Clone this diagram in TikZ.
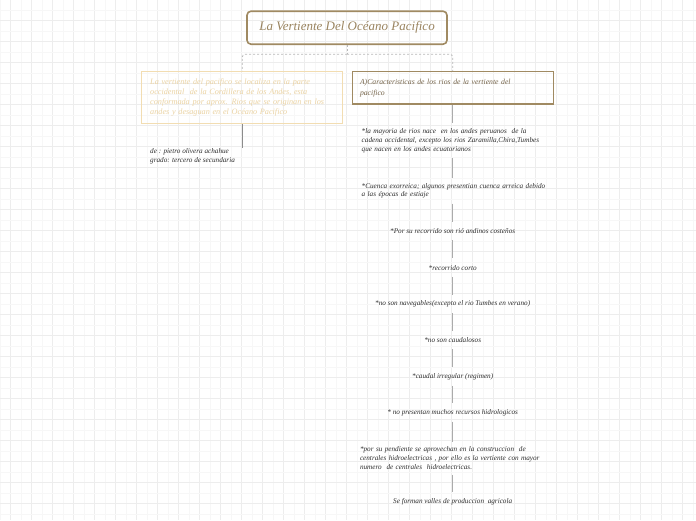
\documentclass[tikz,border=0pt]{standalone}
\usepackage{fontspec}
\setmainfont{Liberation Serif}
\usetikzlibrary{calc}
\definecolor{gold}{HTML}{A08A62}
\definecolor{goldtext}{HTML}{9A8460}
\definecolor{pale}{HTML}{F2DDB2}
\definecolor{paletext}{HTML}{EBD3A3}
\definecolor{darkbrown}{HTML}{76654B}
\definecolor{spine}{HTML}{ABABAB}
\definecolor{spinedark}{HTML}{8C8C8C}
\definecolor{bus}{HTML}{B8B8B8}
\definecolor{gridmaj}{HTML}{EDEDED}
\definecolor{gridmin}{HTML}{F7F7F7}
\definecolor{childtext}{HTML}{2E2E2E}
\begin{document}
\begin{tikzpicture}[x=1pt,y=-1pt,
  titlebox/.style={draw=gold, line width=1.6, rounded corners=4, minimum width=200, minimum height=33,
    text=goldtext, font=\itshape\fontsize{13}{15}\selectfont},
  leftbox/.style={draw=pale, line width=1.4, minimum width=201, minimum height=51.6,
    text width=184, inner xsep=8.5, align=left, text=paletext, font=\itshape\fontsize{8.2}{10}\selectfont},
  rightbox/.style={draw=gold, line width=1.4, minimum width=201, minimum height=32.3,
    text width=185.6, inner xsep=7.7, align=left, text=darkbrown, font=\itshape\fontsize{7.7}{10.6}\selectfont},
  child/.style={inner xsep=0, inner ysep=5, minimum height=18, align=center, text=childtext,
    font=\itshape\fontsize{7.2}{8.9}\selectfont},
  childwide/.style={child, text width=190, align=left},
  author/.style={inner sep=0, align=left, text=childtext, font=\itshape\fontsize{7.2}{9.4}\selectfont},
  spineline/.style={draw=spine, line width=1.3},
  busline/.style={draw=bus, line width=0.8, dash pattern=on 2pt off 2pt, rounded corners=3}
]
\useasboundingbox (0,0) rectangle (696,520);
\fill[white] (0,0) rectangle (696,520);
% grid
\foreach \k in {0,...,33} {
  \draw[gridmin, line width=0.7] ({\k*21},0) -- ({\k*21},520);
  \draw[gridmaj, line width=0.9] ({10.6+\k*21},0) -- ({10.6+\k*21},520);
}
\foreach \k in {0,...,25} {
  \draw[gridmin, line width=0.7] (0,{10.2+\k*21}) -- (696,{10.2+\k*21});
  \draw[gridmaj, line width=0.9] (0,{20.7+\k*21}) -- (696,{20.7+\k*21});
}
% title and main boxes
\node[titlebox] (title) at (347,27.7) {La Vertiente Del Océano Pacifico};
\node[leftbox] (left) at (242.2,97.5) {La vertiente del pacifico se localiza en la parte\\
occidental\ \ de la Cordillera de los Andes, esta\\
conformada por aprox. Rios que se originan en los\\
andes y desaguan en el Océano Pacifico};
\node[rightbox] (right) at (452.8,87.9) {A)Caracteristicas de los rios de la vertiente del\\ pacifico};
% bus
\draw[busline] (title.south) -- ++(0,9.3) coordinate (bj);
\draw[busline] (bj) -| (left.north);
\draw[busline] (bj) -| (right.north);
% author
\node[author, anchor=north west] (auth) at (150,148) {de : pietro olivera achahue\\ grado: tercero de secundaria};
\draw[spineline, draw=spinedark] (left.south) -- (left.south |- auth.north);
% children
\node[childwide] (c1) at (456.7,140.8) {*la mayoria de rios nace\ \ en los andes peruanos\ \ de la\\
cadena occidental, excepto los rios Zaramilla,Chira,Tumbes\\
que nacen en los andes ecuatorianos};
\node[childwide] (c2) at (456.7,190.8) {*Cuenca exorreica; algunos presentian cuenca arreica debido\\
a las épocas de estiaje};
\node[child] (c3) at (452.7,230.8) {*Por su recorrido son rió andinos costeños};
\node[child] (c4) at (452.7,267.6) {*recorrido corto};
\node[child] (c5) at (452.7,303.8) {*no son navegables(excepto el rio Tumbes en verano)};
\node[child] (c6) at (452.7,340.2) {*no son caudalosos};
\node[child] (c7) at (452.7,376.6) {*caudal irregular (regimen)};
\node[child] (c8) at (452.7,412.5) {* no presentan muchos recursos hidrologicos};
\node[childwide] (c9) at (455,458.2) {*por su pendiente se aprovechan en la construccion\ \ de\\
centrales hidroelectricas , por ello es la vertiente con mayor\\
numero\ \ de centrales\ \ hidroelectricas.};
\node[child] (c10) at (452.7,501.5) {Se forman valles de produccion\ \ agricola};
% spine
\draw[spineline] (right.south) -- (right.south |- c1.north);
\foreach \a/\b in {c1/c2,c2/c3,c3/c4,c4/c5,c5/c6,c6/c7,c7/c8,c8/c9,c9/c10} {
  \draw[spineline] (right.south |- \a.south) -- (right.south |- \b.north);
}
\end{tikzpicture}
\end{document}
